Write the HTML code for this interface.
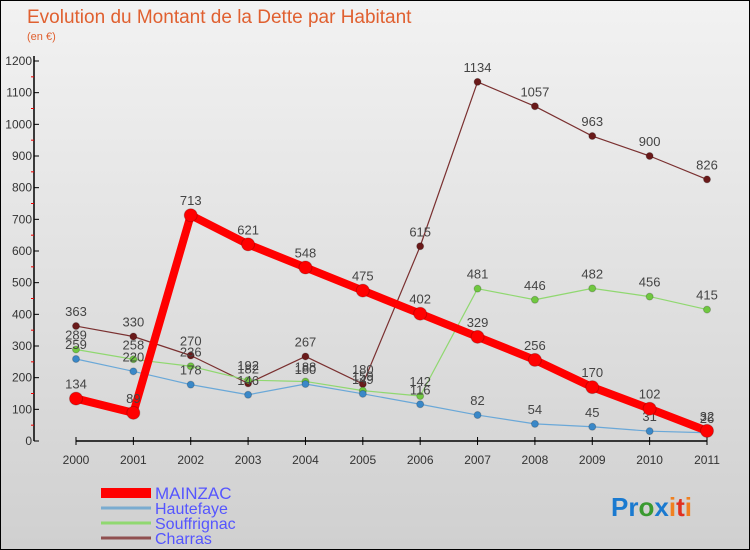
<!DOCTYPE html>
<html><head><meta charset="utf-8"><style>
body{margin:0}
#c{width:750px;height:550px;position:relative;font-family:"Liberation Sans",sans-serif;background:linear-gradient(#f2f2f2,#d0d0d0);box-sizing:border-box;border:1px solid #000;overflow:hidden}
text{font-family:"Liberation Sans",sans-serif}
</style></head><body>
<div id="c">
<svg id="s" width="750" height="550" style="position:absolute;left:0;top:0">
<text x="26" y="22" font-size="19" fill="#e06030">Evolution du Montant de la Dette par Habitant</text>
<text x="26" y="39" font-size="11" fill="#e06030">(en €)</text>
<g id="g"></g>
<text x="610" y="515" font-size="26" font-weight="bold"><tspan fill="#1a7ad0">Pr</tspan><tspan fill="#3a9a30">o</tspan><tspan fill="#1a7ad0">x</tspan><tspan fill="#f08020">i</tspan><tspan fill="#e03020">t</tspan><tspan fill="#f08020">i</tspan></text>
</svg>
</div>
<script>
const years=["2000","2001","2002","2003","2004","2005","2006","2007","2008","2009","2010","2011"];
const yTicks=[0,100,200,300,400,500,600,700,800,900,1000,1100,1200];
const mainzac=[134,89,713,621,548,475,402,329,256,170,102,32];
const hautefaye=[259,220,178,146,180,149,116,82,54,45,31,26];
const souffrignac=[289,258,236,192,188,159,142,481,446,482,456,415];
const charras=[363,330,270,182,267,180,615,1134,1057,963,900,826];
const seriesNames=["MAINZAC","Hautefaye","Souffrignac","Charras"];
const NS="http://www.w3.org/2000/svg";
const g=document.getElementById('g');
const X=i=>75+i*(706-75)/11;
const Y=v=>440-v*(380/1200);
function el(t,a,p){const e=document.createElementNS(NS,t);for(const k in a)e.setAttribute(k,a[k]);(p||g).appendChild(e);return e;}
let ax=el('line',{x1:33,y1:55,x2:33,y2:440,stroke:'#000','stroke-width':1.5});


let bx=el('line',{x1:75,y1:440,x2:706,y2:440,stroke:'#000','stroke-width':1.5});


yTicks.forEach(v=>{
 el('line',{x1:33,y1:Y(v),x2:38,y2:Y(v),stroke:'#000'});
 if(v<1200){el('line',{x1:30,y1:Y(v+50),x2:33,y2:Y(v+50),stroke:'#e00'});}
 const t=el('text',{x:31,y:Y(v)+4,'font-size':12,'text-anchor':'end',fill:'#333'});t.textContent=v;
 
 
});
years.forEach((y,i)=>{
 el('line',{x1:X(i),y1:436,x2:X(i),y2:444,stroke:'#000'});
 const t=el('text',{x:X(i),y:463,'font-size':12,'text-anchor':'middle',fill:'#333'});t.textContent=y;
 
 
});
function draw(data,color,w,r,name,fill){
 const p=el('polyline',{points:data.map((v,i)=>X(i)+','+Y(v)).join(' '),fill:'none',stroke:color,'stroke-width':w,'stroke-linejoin':'round'});
 
 
 data.forEach((v,i)=>{
  const c=el('circle',{cx:X(i),cy:Y(v),r:r,fill:fill,stroke:'rgba(0,0,0,0.2)'});
  
  
  const t=el('text',{x:X(i),y:Y(v)-10,'font-size':13,'text-anchor':'middle',fill:'#444'});t.textContent=v;
  
  
 });
}
draw(charras,'#7a3030',1.2,3.5,'charras','#6a1a1a');
draw(souffrignac,'#90d870',1.2,3.5,'souffrignac','#70c840');
draw(hautefaye,'#6aa8d8',1.2,3.5,'hautefaye','#3a88c8');
draw(mainzac,'#f00',8,6.5,'mainzac','#f00');
const lc=['#f00','#7aacd0','#90d870','#905050'],lw=[10,3,3,3];
seriesNames.forEach((n,i)=>{
 const yy=492+i*15;
 el('line',{x1:100,y1:yy,x2:150,y2:yy,stroke:lc[i],'stroke-width':lw[i]});
 const t=el('text',{x:154,y:yy+6,'font-size':i==0?17:16,fill:'#5555ff'});t.textContent=n;
 
 
});
</script>
</body></html>
